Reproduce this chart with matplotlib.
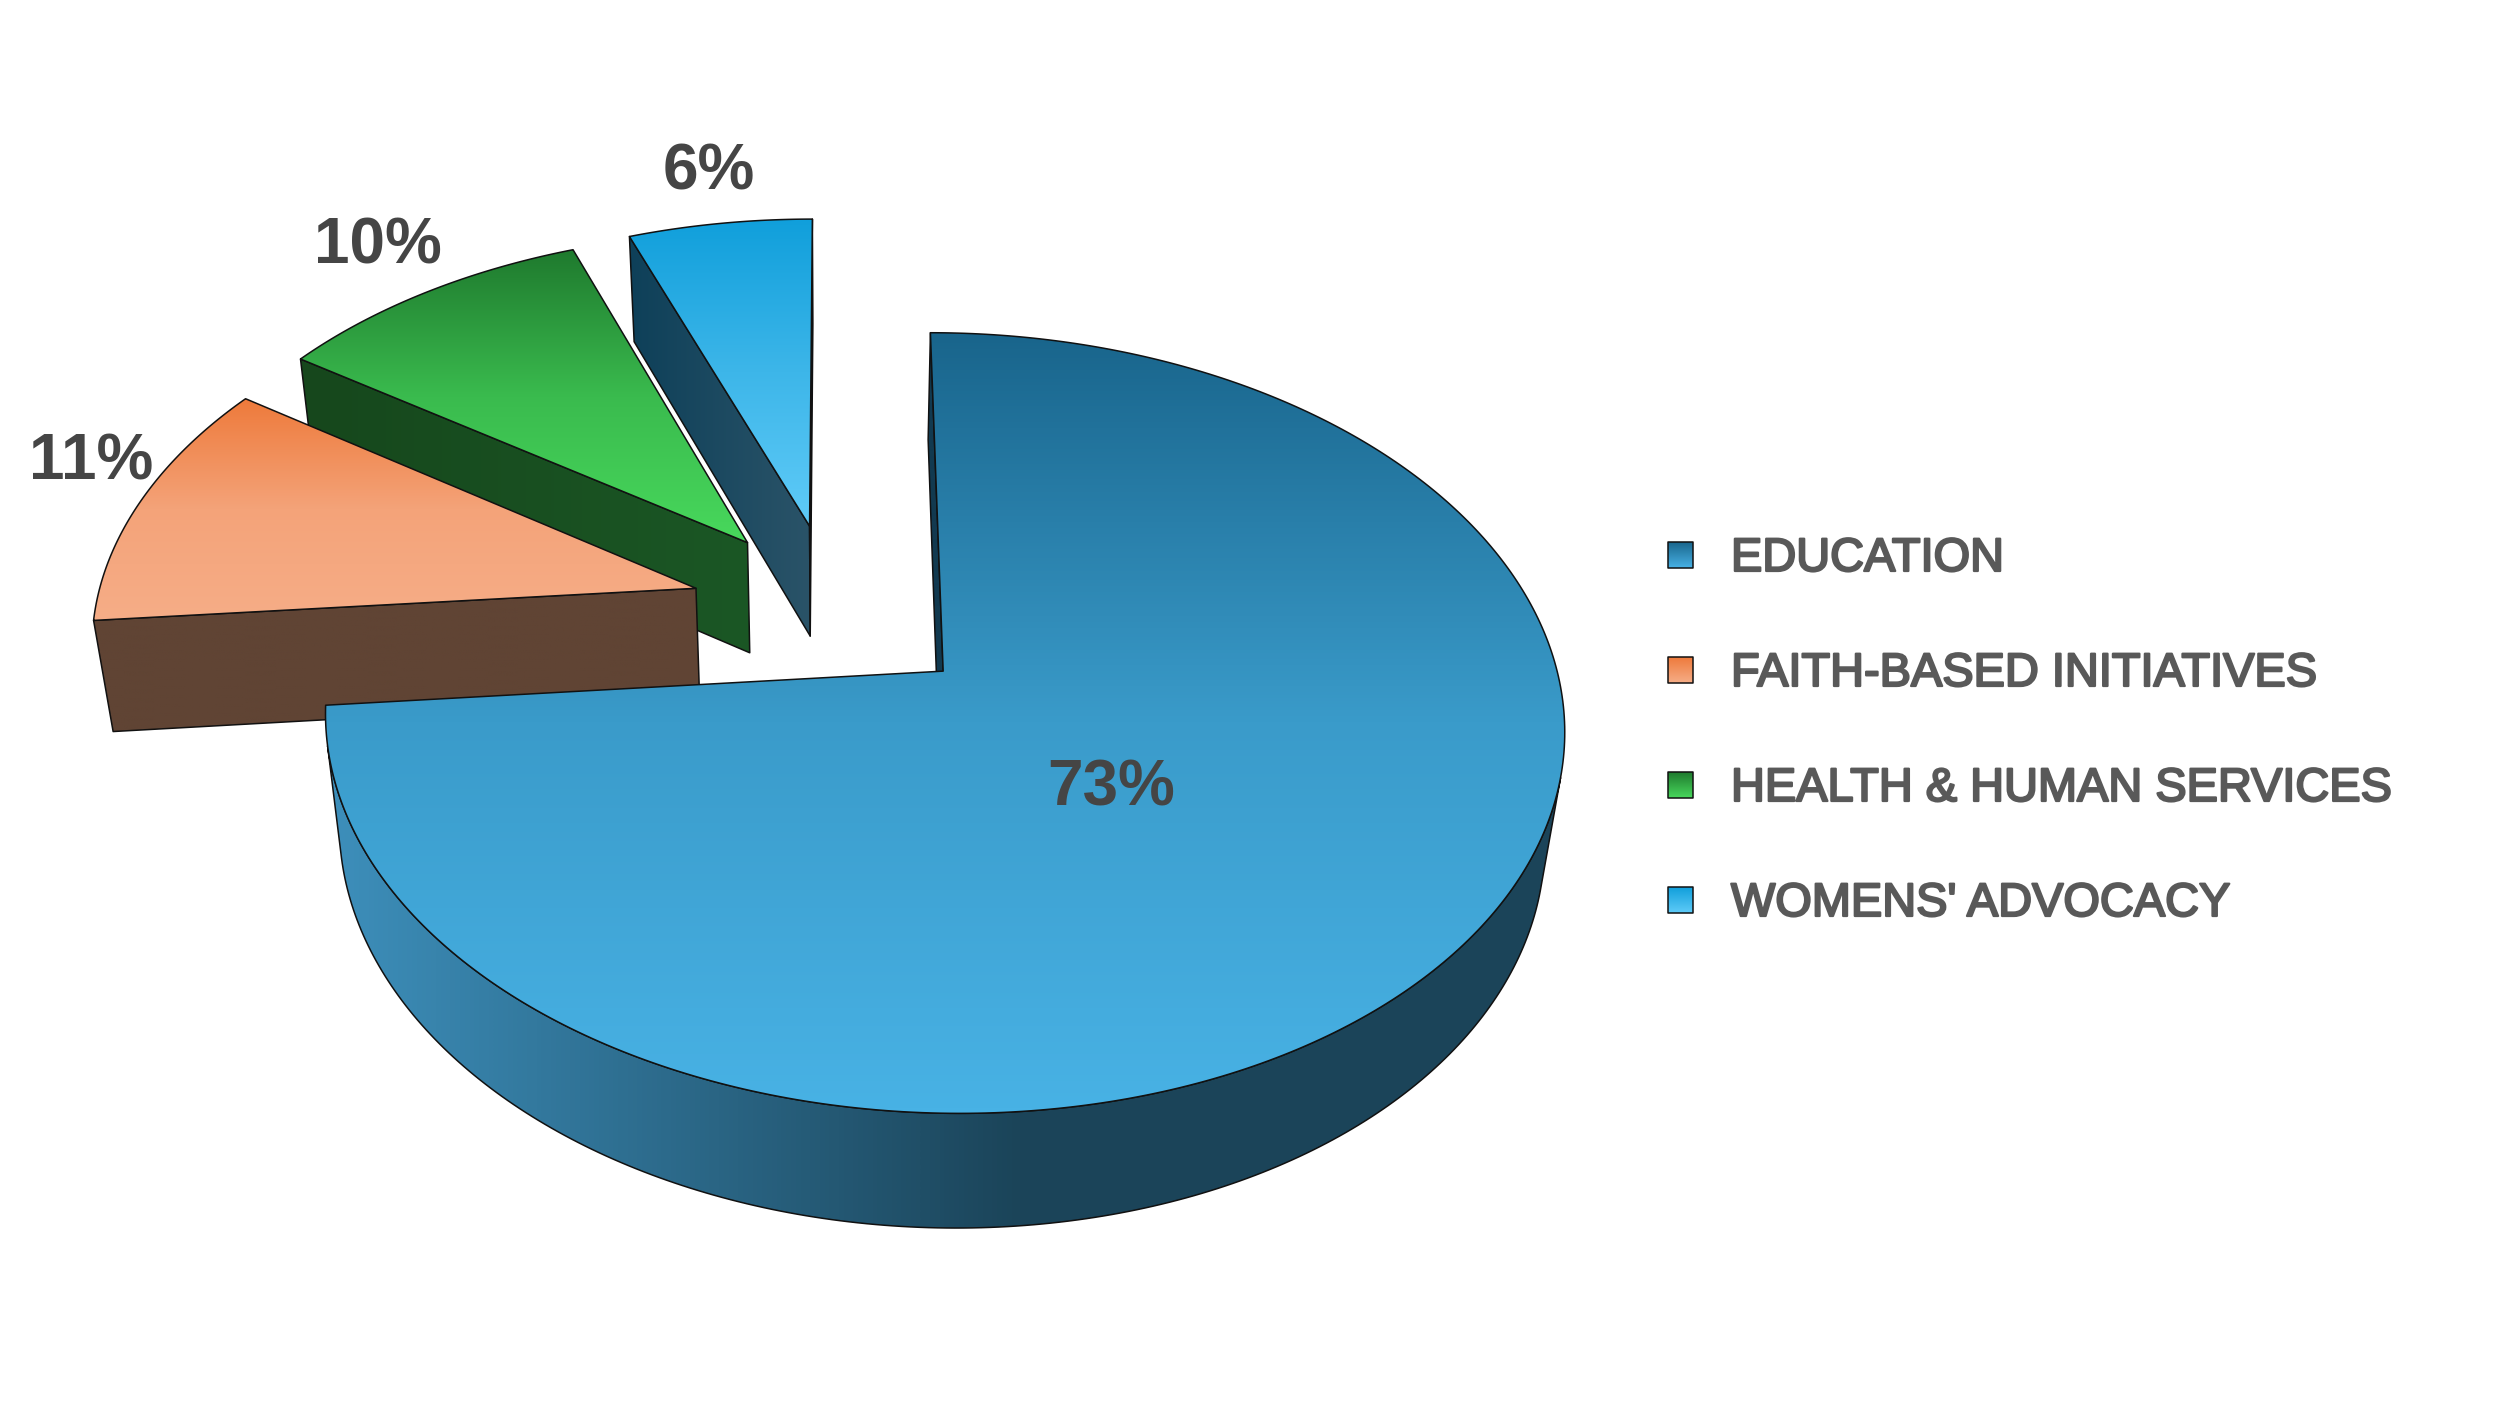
import numpy as np
import matplotlib
matplotlib.use("Agg")
import matplotlib.pyplot as plt
from matplotlib.colors import LinearSegmentedColormap
from matplotlib.patches import Polygon
import matplotlib.patheffects as pe

categories = ["EDUCATION", "FAITH-BASED INITIATIVES", "HEALTH & HUMAN SERVICES", "WOMENS' ADVOCACY"]
shares = [73.6, 10.9, 9.8, 5.7]
share_labels = ["73%", "11%", "10%", "6%"]
top_dark = ["#19658c", "#ee7a3b", "#1f7a2e", "#109fdb"]
top_mid = ["#3a9bca", "#f4a379", "#3abb4e", "#3db6e9"]
top_light = ["#48b2e5", "#f6ad87", "#48d85c", "#5fcbf8"]
wall_left = ["#123a50", "#604434", "#16471c", "#0e4059"]
wall_right = ["#123a50", "#604434", "#1b5725", "#2a5368"]
rim_left = ["#3d8fbb", "#604434", "#16471c", "#0e4059"]
rim_right = ["#1b4459", "#604434", "#1b5725", "#2a5368"]
label_xy = [(1111, 788), (91, 463), (378, 247), (709, 172)]

EXPLODE = 0.24
X0, Y0, A, B, D, K, L = 834.5, 610.3, 601.0, 367.4, 114.0, 0.1302, 0.027
RIM_DARK_X = 1020


def project(u, v, z=0.0):
    w = 1 + K * np.asarray(v) + L * z
    return X0 + A * np.asarray(u) / w, Y0 - (B * np.asarray(v) - D * z) / w


def area(pts):
    p = np.asarray(pts)
    q = np.roll(p, -1, axis=0)
    return np.sum(p[:, 0] * q[:, 1] - q[:, 0] * p[:, 1]) / 2


fig = plt.figure(figsize=(25, 14.08), dpi=100, facecolor="white")
ax = fig.add_axes([0, 0, 1, 1])
ax.set_axis_off()


def grad_fill(points, stops, vertical=True, zorder=1):
    points = np.asarray(points)
    ax.add_patch(Polygon(points, closed=True, facecolor="none", edgecolor="#111111", lw=1.1,
                         zorder=zorder + 0.5, joinstyle="round"))
    clip = Polygon(points, closed=True, transform=ax.transData, facecolor="none", edgecolor="none")
    ax.add_patch(clip)
    cmap = LinearSegmentedColormap.from_list("g", stops)
    ramp = np.linspace(0, 1, 256)
    ramp = ramp[:, None] if vertical else ramp[None, :]
    extent = (points[:, 0].min(), points[:, 0].max(), points[:, 1].max(), points[:, 1].min())
    im = ax.imshow(ramp, cmap=cmap, extent=extent, origin="upper" if vertical else "lower",
                   aspect="auto", interpolation="bilinear", zorder=zorder)
    im.set_clip_path(clip)


def quad(u1, v1, u2, v2):
    x1, y1 = project(u1, v1)
    x2, y2 = project(u2, v2)
    x3, y3 = project(u2, v2, 1)
    x4, y4 = project(u1, v1, 1)
    return [(x1, y1), (x2, y2), (x3, y3), (x4, y4)]


fractions = np.array(shares) / sum(shares)
edges = np.concatenate([[0], np.cumsum(fractions)]) * 2 * np.pi

# the back wedges are painted first
for i in [3, 2, 1, 0]:
    a0, a1 = edges[i], edges[i + 1]
    mid = (a0 + a1) / 2
    cu, cv = EXPLODE * np.sin(mid), EXPLODE * np.cos(mid)
    t = np.linspace(a0, a1, 360)
    au, av = cu + np.sin(t), cv + np.cos(t)
    base = 10 * (4 - i)
    walls = [(a0, quad(cu, cv, au[0], av[0]), -1), (a1, quad(cu, cv, au[-1], av[-1]), 1)]
    for n, (_, q, sign) in enumerate(walls):
        if area(q) * sign > 0:
            grad_fill(q, [wall_left[i], wall_right[i]], False, base + 1 + n)
    # only the part of the rim that faces the viewer
    tx, ty = project(au, av)
    bx, by = project(au, av, 1)
    seg = np.array([area([(tx[j], ty[j]), (tx[j + 1], ty[j + 1]), (bx[j + 1], by[j + 1]), (bx[j], by[j])]) < 0
                    for j in range(len(t) - 1)])
    if seg.any():
        idx = np.where(seg)[0]
        j0, j1 = idx[0], idx[-1] + 2
        rim = np.column_stack([np.r_[tx[j0:j1], bx[j0:j1][::-1]], np.r_[ty[j0:j1], by[j0:j1][::-1]]])
        if i == 0:
            f = (RIM_DARK_X - rim[:, 0].min()) / (rim[:, 0].max() - rim[:, 0].min())
            stops = [(0, rim_left[i]), (f, rim_right[i]), (1, rim_right[i])]
        else:
            stops = [rim_left[i], rim_right[i]]
        grad_fill(rim, stops, False, base + 3)
    ax_, ay_ = project(cu, cv)
    top = np.column_stack([np.r_[ax_, tx], np.r_[ay_, ty]])
    grad_fill(top, [top_dark[i], top_mid[i], top_light[i]], True, base + 4)

for (x, y), s in zip(label_xy, share_labels):
    ax.text(x, y, s, ha="center", va="center", fontsize=46, fontweight="bold",
            family="Liberation Sans", color="#454545", zorder=100)

for k, name in enumerate(categories):
    yc = 555 + 115 * k
    grad_fill([(1668, yc - 13), (1693, yc - 13), (1693, yc + 13), (1668, yc + 13)],
              [top_dark[k], top_light[k]], True, 90)
    ax.text(1731, yc + 4, name, ha="left", va="center", fontsize=33.8, family="Liberation Sans",
            color="#595959", zorder=100,
            path_effects=[pe.withStroke(linewidth=1.6, foreground="#595959")])

ax.set_xlim(0, 2500)
ax.set_ylim(1408, 0)
fig.savefig("out.png", dpi=100, facecolor="white")
